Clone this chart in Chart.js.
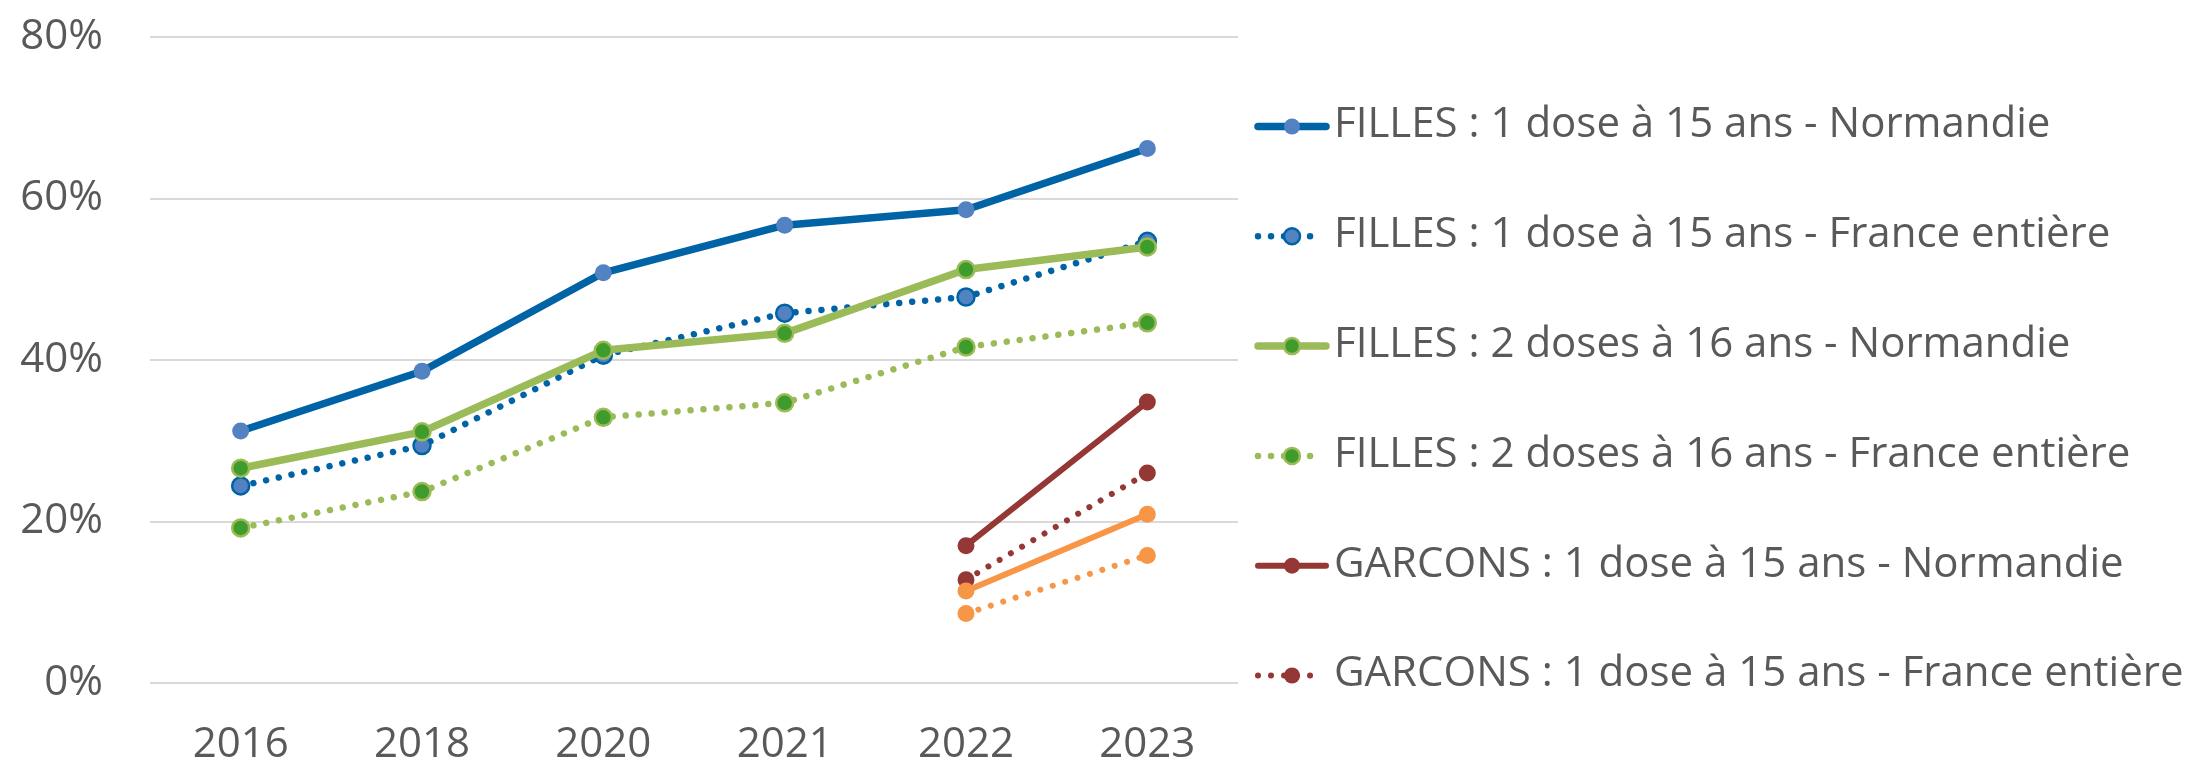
<!DOCTYPE html>
<html>
<head>
<meta charset="utf-8">
<script src="https://cdn.jsdelivr.net/npm/chart.js@4.4.0/dist/chart.umd.min.js"></script>
<style>
    body { margin: 0; background: #fff; }
</style>
</head>
<body>
<canvas id="myChart" width="2188" height="763"></canvas>
<script>
// data
const years = ['2016', '2018', '2020', '2021', '2022', '2023']
const fillesDose1Normandie = [0.312, 0.386, 0.508, 0.567, 0.586, 0.662]
const fillesDose1France = [0.244, 0.294, 0.406, 0.458, 0.478, 0.547]
const fillesDoses2Normandie = [0.266, 0.311, 0.412, 0.433, 0.512, 0.540]
const fillesDoses2France = [0.192, 0.237, 0.329, 0.347, 0.416, 0.446]
const garconsDose1Normandie = [null, null, null, null, 0.170, 0.348]
const garconsDose1France = [null, null, null, null, 0.128, 0.260]
const garconsDoses2Normandie = [null, null, null, null, 0.114, 0.209]
const garconsDoses2France = [null, null, null, null, 0.086, 0.158]
const seriesNames = [
    'FILLES : 1 dose à 15 ans - Normandie',
    'FILLES : 1 dose à 15 ans - France entière',
    'FILLES : 2 doses à 16 ans - Normandie',
    'FILLES : 2 doses à 16 ans - France entière',
    'GARCONS : 1 dose à 15 ans - Normandie',
    'GARCONS : 1 dose à 15 ans - France entière',
    'GARCONS : 2 doses à 16 ans - Normandie',
    'GARCONS : 2 doses à 16 ans - France entière'
]
const shownInLegend = 6

const textColor = '#595959'
const fontFamily = '"Open Sans", "Noto Sans", sans-serif'
const fontSize = 42
const dots = [0.01, 13]

const makeSeries = (i, data, line, width, dotted, fill, border) => ({
    label: seriesNames[i],
    data: data,
    order: -i,
    borderColor: line,
    borderWidth: width,
    borderDash: dotted ? dots : [],
    borderCapStyle: 'round',
    borderJoinStyle: 'round',
    pointRadius: 8.5,
    pointHoverRadius: 8.5,
    pointBackgroundColor: fill,
    pointBorderColor: border,
    pointBorderWidth: border ? 2.5 : 0,
    tension: 0,
    spanGaps: false
})

const datasets = [
    makeSeries(0, fillesDose1Normandie, '#0063a6', 7.5, false, '#5282c2', null),
    makeSeries(1, fillesDose1France, '#0063a6', 6.5, true, '#5282c2', '#0063a6'),
    makeSeries(2, fillesDoses2Normandie, '#9bbb59', 7.5, false, '#3f9b2b', '#9bbb59'),
    makeSeries(3, fillesDoses2France, '#9bbb59', 6.5, true, '#3f9b2b', '#9bbb59'),
    makeSeries(4, garconsDose1Normandie, '#953735', 6, false, '#953735', null),
    makeSeries(5, garconsDose1France, '#953735', 6, true, '#953735', null),
    makeSeries(6, garconsDoses2Normandie, '#f79646', 6, false, '#f79646', null),
    makeSeries(7, garconsDoses2France, '#f79646', 6, true, '#f79646', null)
]

// legend drawn by hand so each entry shows line + marker like the original
const sideLegend = {
    id: 'sideLegend',
    afterDraw(chart) {
        const ctx = chart.ctx
        for (let i = 0; i < shownInLegend; i++) {
            const ds = chart.data.datasets[i]
            const y = 126.5 + i * 109.8
            ctx.save()
            ctx.strokeStyle = ds.borderColor
            ctx.lineWidth = ds.borderWidth
            ctx.lineCap = 'round'
            ctx.setLineDash(ds.borderDash)
            ctx.beginPath()
            ctx.moveTo(1258, y)
            ctx.lineTo(ds.borderDash.length ? 1314 : 1326, y)
            ctx.stroke()
            ctx.setLineDash([])
            ctx.beginPath()
            ctx.arc(1292, y, ds.pointRadius - 0.5, 0, Math.PI * 2)
            ctx.fillStyle = ds.pointBackgroundColor
            ctx.fill()
            if (ds.pointBorderWidth) {
                ctx.lineWidth = ds.pointBorderWidth
                ctx.strokeStyle = ds.pointBorderColor
                ctx.stroke()
            }
            ctx.fillStyle = textColor
            ctx.font = `${fontSize}px ${fontFamily}`
            ctx.textBaseline = 'middle'
            ctx.fillText(ds.label, 1334, y - 1)
            ctx.restore()
        }
    }
}

Chart.defaults.font.family = fontFamily
Chart.defaults.font.size = fontSize
Chart.defaults.color = textColor

const myChart = new Chart(document.getElementById('myChart'), {
    type: 'line',
    data: { labels: years, datasets: datasets },
    options: {
        responsive: false,
        animation: false,
        devicePixelRatio: 1,
        layout: { padding: { top: 37, right: 950, left: 0, bottom: 0 } },
        plugins: {
            legend: { display: false },
            tooltip: { enabled: false }
        },
        scales: {
            x: {
                offset: true,
                grid: { display: false, drawTicks: false },
                border: { display: false },
                ticks: { padding: 37, maxRotation: 0 },
                afterFit: (scale) => { scale.height = 80 }
            },
            y: {
                min: 0,
                max: 0.8,
                // invisible tick marks keep the labels away from the plot
                // without the tick padding pushing the plot top down
                grid: { color: '#d9d9d9', lineWidth: 2, drawTicks: true, tickLength: 45, tickColor: 'rgba(0,0,0,0)' },
                border: { display: false },
                ticks: {
                    stepSize: 0.2,
                    padding: 2,
                    callback: (v) => Math.round(v * 100) + '%'
                },
                afterFit: (scale) => { scale.width = 150 }
            }
        }
    },
    plugins: [sideLegend]
})
</script>
</body>
</html>
